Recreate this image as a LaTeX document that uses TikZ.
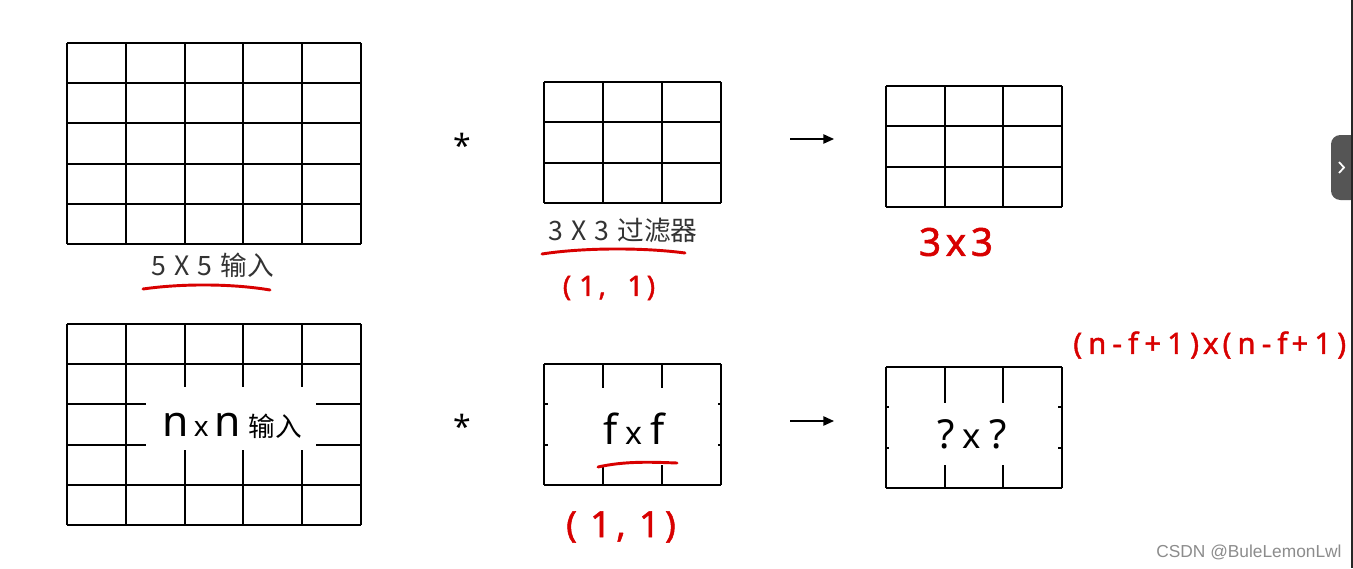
\documentclass[tikz,border=0pt]{standalone}
\usepackage{fontspec}
\setmainfont{Noto Sans}
\newfontfamily\cjk{Noto Sans CJK SC}
\newfontfamily\hand[LetterSpace=12,FakeBold=1.5]{Noto Sans}
\newfontfamily\handwide[LetterSpace=21,FakeBold=1.5]{Noto Sans}
\newfontfamily\wm{Liberation Sans}
\usetikzlibrary{arrows.meta}
\definecolor{ink}{HTML}{333333}
\definecolor{hred}{HTML}{D80000}
\definecolor{tabgray}{HTML}{555555}
\begin{document}
\begin{tikzpicture}[x=0.75pt,y=-0.75pt,
  gridline/.style={line width=1.4pt,black},
  whitebox/.style={fill=white,draw=none},
  lbl/.style={inner sep=0pt,text=ink,font=\cjk\fontsize{20}{24}\selectfont},
  redlbl/.style={inner sep=0pt,text=hred},
  redstroke/.style={draw=hred,line width=2.2pt,line cap=round},
  convarrow/.style={line width=1.1pt,-{Triangle[length=8pt,width=7pt]}},
  star/.style={inner sep=0pt,font=\fontsize{24}{28}\selectfont}]
\clip (0,0) rectangle (1353,568);
\useasboundingbox (0,0) rectangle (1353,568);
\fill[white] (0,0) rectangle (1353,568);

% ---------- top row ----------
\foreach \i in {0,...,5} \draw[gridline] (67+\i*58.8,43) -- (67+\i*58.8,244);
\foreach \j in {0,...,5} \draw[gridline] (67,43+\j*40.2) -- (361,43+\j*40.2);
\foreach \i in {0,...,3} \draw[gridline] (544+\i*59,82) -- (544+\i*59,203);
\foreach \j in {0,...,3} \draw[gridline] (544,82+\j*40.33) -- (721,82+\j*40.33);
\foreach \i in {0,...,3} \draw[gridline] (886+\i*58.67,86) -- (886+\i*58.67,207);
\foreach \j in {0,...,3} \draw[gridline] (886,86+\j*40.33) -- (1062,86+\j*40.33);

\node[lbl] (in5) at (213,265) {5\hspace{6pt}X\hspace{6pt}5\hspace{6pt}输入};
\node[lbl] (f3) at (623,230) {3\hspace{6pt}X\hspace{6pt}3\hspace{6pt}过滤器};
\node[star] (star1) at (462,145) {*};
\coordinate (a1s) at (790,139);
\coordinate (a1e) at (834,139);
\draw[convarrow] (a1s) -- (a1e);

\draw[redstroke] (143,289) .. controls (185,283) and (235,284) .. (270,290);
\draw[redstroke] (542,254) .. controls (580,248) and (640,247) .. (685,253);
\node[redlbl,font=\hand\fontsize{21}{24}\selectfont] (p1) at (609,288) {(\hspace{6pt}1,\hspace{16pt}1)};
\node[redlbl,font=\hand\fontsize{29}{34}\selectfont] (o3) at (956,242) {3x3};

% ---------- bottom row ----------
\foreach \i in {0,...,5} \draw[gridline] (67+\i*58.8,324) -- (67+\i*58.8,525);
\foreach \j in {0,...,5} \draw[gridline] (67,324+\j*40.2) -- (361,324+\j*40.2);
\foreach \i in {0,...,3} \draw[gridline] (544+\i*59,364) -- (544+\i*59,485);
\foreach \j in {0,...,3} \draw[gridline] (544,364+\j*40.33) -- (721,364+\j*40.33);
\foreach \i in {0,...,3} \draw[gridline] (886+\i*58.67,367) -- (886+\i*58.67,488);
\foreach \j in {0,...,3} \draw[gridline] (886,367+\j*40.33) -- (1062,367+\j*40.33);

\fill[whitebox] (146,387) rectangle (316,450);
\fill[whitebox] (548,388) rectangle (718,465);
\fill[whitebox] (889,403) rectangle (1058,465);

\node[inner sep=0pt,anchor=base] (nn) at (232,436)
  {\fontsize{32}{36}\selectfont n\hspace{4pt}{\fontsize{21}{24}\selectfont x}\hspace{4pt}n\hspace{6pt}{\cjk\fontsize{20}{24}\selectfont 输入}};
\node[inner sep=0pt,anchor=base] (ff) at (634,444)
  {\fontsize{31}{36}\selectfont f\hspace{6pt}{\fontsize{24}{28}\selectfont x}\hspace{6pt}f};
\node[inner sep=0pt,anchor=base] (qq) at (972,448)
  {\fontsize{30}{36}\selectfont ?\hspace{6pt}{\fontsize{26}{28}\selectfont x}\hspace{6pt}?};

\node[star] (star2) at (462,426) {*};
\coordinate (a2s) at (790,421);
\coordinate (a2e) at (834,421);
\draw[convarrow] (a2s) -- (a2e);

\draw[redstroke] (598,467) .. controls (625,461) and (650,462) .. (677,463);
\node[redlbl,font=\hand\fontsize{27}{30}\selectfont] (p2) at (621,527) {(\hspace{10pt}1\hspace{4pt},\hspace{10pt}1\hspace{4pt})};
\node[redlbl,anchor=west,font=\handwide\fontsize{22}{26}\selectfont] (res) at (1073,345) {(n-f+1)\hspace{3pt}x\hspace{3pt}(n-f\hspace{3pt}+1)};

% ---------- page chrome ----------
\node[inner sep=0pt,text=black!45,font=\wm\fontsize{13}{16}\selectfont] (wmk) at (1249,552) {CSDN @BuleLemonLwl};
\fill[tabgray,rounded corners=7pt] (1331,135) rectangle (1360,200);
\draw[white,line width=1.3pt] (1339,162) -- (1344,167.5) -- (1339,173);
\fill[black!85] (1351,0) rectangle (1353,568);
\end{tikzpicture}
\end{document}
